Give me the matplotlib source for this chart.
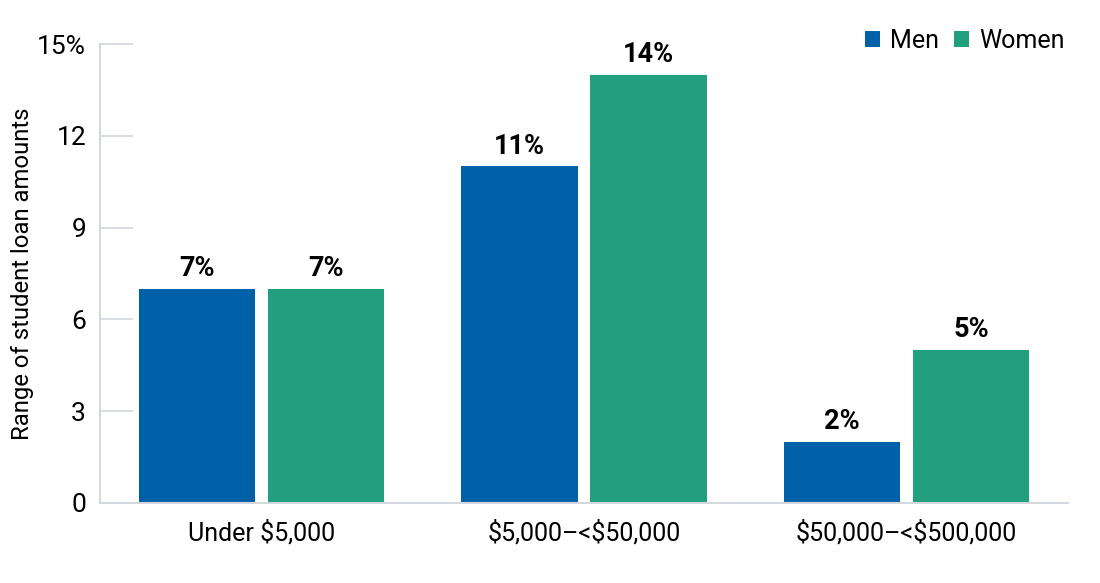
import matplotlib
matplotlib.use('Agg')
from matplotlib import pyplot as plt
import numpy as np

plt.rcParams['font.family'] = ['Roboto', 'DejaVu Sans']

categories = ['Under $5,000', '$5,000–<$50,000', '$50,000–<$500,000']
men = [7, 11, 2]
women = [7, 14, 5]
yticks = [0, 3, 6, 9, 12, 15]
ytick_labels = ['0', '3', '6', '9', '12', '15%']

men_color = '#0061a8'
women_color = '#219f7f'
axis_color = '#d3d8de'

fig = plt.figure(figsize=(11, 5.83), dpi=100)
ax = fig.add_axes([100/1100, 80/583, 968/1100, 459/583])

x = np.arange(len(categories))
width = 0.36
b1 = ax.bar(x - 0.2, men, width, color=men_color, label='Men')
b2 = ax.bar(x + 0.2, women, width, color=women_color, label='Women')

for bars, vals in [(b1, men), (b2, women)]:
    for bar, v in zip(bars, vals):
        ax.text(bar.get_x() + bar.get_width()/2, v + 0.22, f'{v}%',
                ha='center', va='bottom', fontsize=19.5, fontweight='bold')

ax.set_xlim(-0.5, 2.5)
ax.set_ylim(0, 15)
ax.set_yticks(yticks)
ax.set_yticklabels(ytick_labels, fontsize=19)
ax.set_xticks(x)
ax.set_xticklabels([c.replace('$', r'\$') for c in categories], fontsize=18)
ax.tick_params(axis='x', length=0, pad=12)
ax.tick_params(axis='y', direction='in', length=24, width=1.2,
               color=axis_color, pad=10)
ax.set_ylabel('Range of student loan amounts', fontsize=17.2)
ax.yaxis.set_label_coords(-0.068, 0.5)

for s in ['top', 'right']:
    ax.spines[s].set_visible(False)
for s in ['left', 'bottom']:
    ax.spines[s].set_color(axis_color)
    ax.spines[s].set_linewidth(1.5)

ax.legend(loc='upper right', bbox_to_anchor=(1.012, 1.065), ncol=2, frameon=False,
          fontsize=18, handlelength=0.6, handleheight=0.6, handletextpad=0.4,
          columnspacing=0.6, borderaxespad=0.2)

fig.savefig('out.png', dpi=100)
